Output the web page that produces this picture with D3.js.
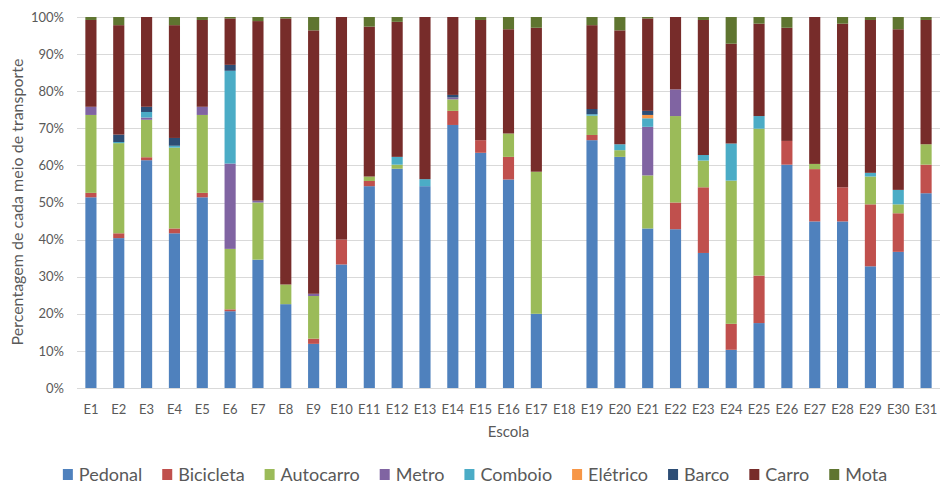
<!DOCTYPE html>
<html><head><meta charset="utf-8">
<script src="https://cdnjs.cloudflare.com/ajax/libs/d3/7.8.5/d3.min.js"></script>
<style>body{margin:0;background:#fff;} svg{display:block;font-family:Lato, "Open Sans", sans-serif;}</style>
</head><body><svg id="c" width="950" height="489"></svg>
<script>
const schools = ["E1","E2","E3","E4","E5","E6","E7","E8","E9","E10","E11","E12","E13","E14","E15","E16","E17","E18","E19","E20","E21","E22","E23","E24","E25","E26","E27","E28","E29","E30","E31"];
const modes = ["Pedonal","Bicicleta","Autocarro","Metro","Comboio","Elétrico","Barco","Carro","Mota"];
const colors = ["#4F81BD","#C0504D","#9BBB59","#8064A2","#4BACC6","#F79646","#2C4D75","#772C2A","#5F7530"];
const pedonal   = [51.4,40.4,61.4,41.7,51.4,20.7,34.6,22.6,11.9,33.3,54.4,59.1,54.4,70.9,63.4,56.2,20.0,0,66.8,62.3,43.0,42.8,36.4,10.3,17.5,60.2,44.9,44.9,32.8,36.7,52.5];
const bicicleta = [1.2,1.3,0.8,1.3,1.2,0.5,0,0,1.4,6.7,1.4,0,0,3.8,3.4,6.1,0,0,1.4,0,0,7.2,17.7,7.0,12.8,6.4,14.1,9.2,16.7,10.4,7.7];
const autocarro = [21.0,24.3,10.1,21.8,21.0,16.3,15.4,5.3,11.5,0,1.2,1.1,0,3.1,0,6.3,38.3,0,5.2,1.8,14.3,23.3,7.2,38.6,39.6,0,1.4,0,7.5,2.4,5.5];
const metro     = [2.2,0,0.6,0,2.2,23.0,0.5,0,0.6,0,0,0,0,0.5,0,0,0,0,0,0,13.1,7.2,0,0,0,0,0,0,0,0,0];
const comboio   = [0,0.3,1.5,0.5,0,25.0,0,0,0,0,0,2.1,1.9,0,0,0,0,0,0.4,1.6,2.3,0,1.5,10.0,3.4,0,0,0,1.0,3.9,0];
const eletrico  = [0,0,0,0,0,0,0,0,0,0,0,0,0,0,0,0,0,0,0,0,0.9,0,0,0,0,0,0,0,0,0,0];
const barco     = [0,2.0,1.4,2.1,0,1.6,0,0,0,0,0,0,0,0.7,0,0,0,0,1.4,0,1.1,0,0,0,0,0,0,0,0,0,0];
const carro     = [23.4,29.5,24.2,30.4,23.4,12.5,48.4,71.7,71.0,60.0,40.4,36.4,43.7,21.0,32.4,28.1,38.8,0,22.6,30.7,24.9,19.5,36.4,26.9,24.9,30.5,39.6,44.1,41.2,43.3,33.5];
const mota      = [0.8,2.2,0,2.2,0.8,0.4,1.1,0.4,3.6,0,2.6,1.3,0,0,0.8,3.3,2.9,0,2.2,3.6,0.4,0,0.8,7.2,1.8,2.9,0,1.8,0.8,3.3,0.8];
const yTicks = [0,10,20,30,40,50,60,70,80,90,100];

const series = [pedonal,bicicleta,autocarro,metro,comboio,eletrico,barco,carro,mota];
const rows = schools.map((s,i)=>{const r={school:s}; modes.forEach((m,k)=>r[m]=series[k][i]); return r;});
const stacked = d3.stack().keys(modes)(rows);

const svg = d3.select("#c");
const L=77, R=940, T=17, B=388;
const x = d3.scaleBand().domain(schools).range([L,R]).paddingInner(0.6).paddingOuter(0.3);
const y = d3.scaleLinear().domain([0,100]).range([B,T]);
const tc = "#595959";

// gridlines
svg.append("g").selectAll("line").data(yTicks).join("line")
  .attr("x1",L).attr("x2",R).attr("y1",d=>Math.round(y(d))+0.5).attr("y2",d=>Math.round(y(d))+0.5)
  .attr("stroke","#d9d9d9").attr("stroke-width",1);

// y axis labels
const yAxis = d3.axisLeft(y).tickValues(yTicks).tickFormat(d=>d+"%").tickSize(0).tickPadding(13);
const ga = svg.append("g").attr("transform",`translate(${L},0)`).call(yAxis);
ga.select(".domain").remove();
ga.selectAll("text").attr("fill",tc).style("font-size","13px").style("font-family","Lato, sans-serif");

// bars
svg.append("g").selectAll("g").data(stacked).join("g").attr("fill",(d,i)=>colors[i])
  .selectAll("rect").data(d=>d).join("rect")
  .attr("x",d=>x(d.data.school)).attr("width",x.bandwidth())
  .attr("y",d=>y(d[1])).attr("height",d=>Math.max(0,y(d[0])-y(d[1])));

// x axis labels
const xAxis = d3.axisBottom(x).tickSize(0).tickPadding(17);
const gx = svg.append("g").attr("transform",`translate(0,${B})`).call(xAxis);
gx.select(".domain").remove();
gx.selectAll("text").attr("fill",tc).style("font-size","13px").style("font-family","Lato, sans-serif");

// axis titles
svg.append("text").attr("x",(L+R)/2).attr("y",437).attr("text-anchor","middle")
  .attr("fill",tc).style("font-size","15px").text("Escola");
svg.append("text").attr("transform","translate(23,202) rotate(-90)").attr("text-anchor","middle")
  .attr("fill",tc).style("font-size","16px").text("Percentagem de cada meio de transporte");

// legend
const lg = svg.append("g");
let cx = 0;
modes.forEach((m,i)=>{
  const g = lg.append("g");
  g.append("rect").attr("x",0).attr("y",-6).attr("width",10).attr("height",11).attr("fill",colors[i]);
  const t = g.append("text").attr("x",16).attr("y",6).attr("fill",tc).style("font-size","18px").text(m);
  const w = 16 + t.node().getComputedTextLength();
  g.attr("transform",`translate(${cx},0)`);
  cx += w + 20;
});
const total = cx - 20;
lg.attr("transform",`translate(${(950-total)/2},475)`);
</script></body></html>
